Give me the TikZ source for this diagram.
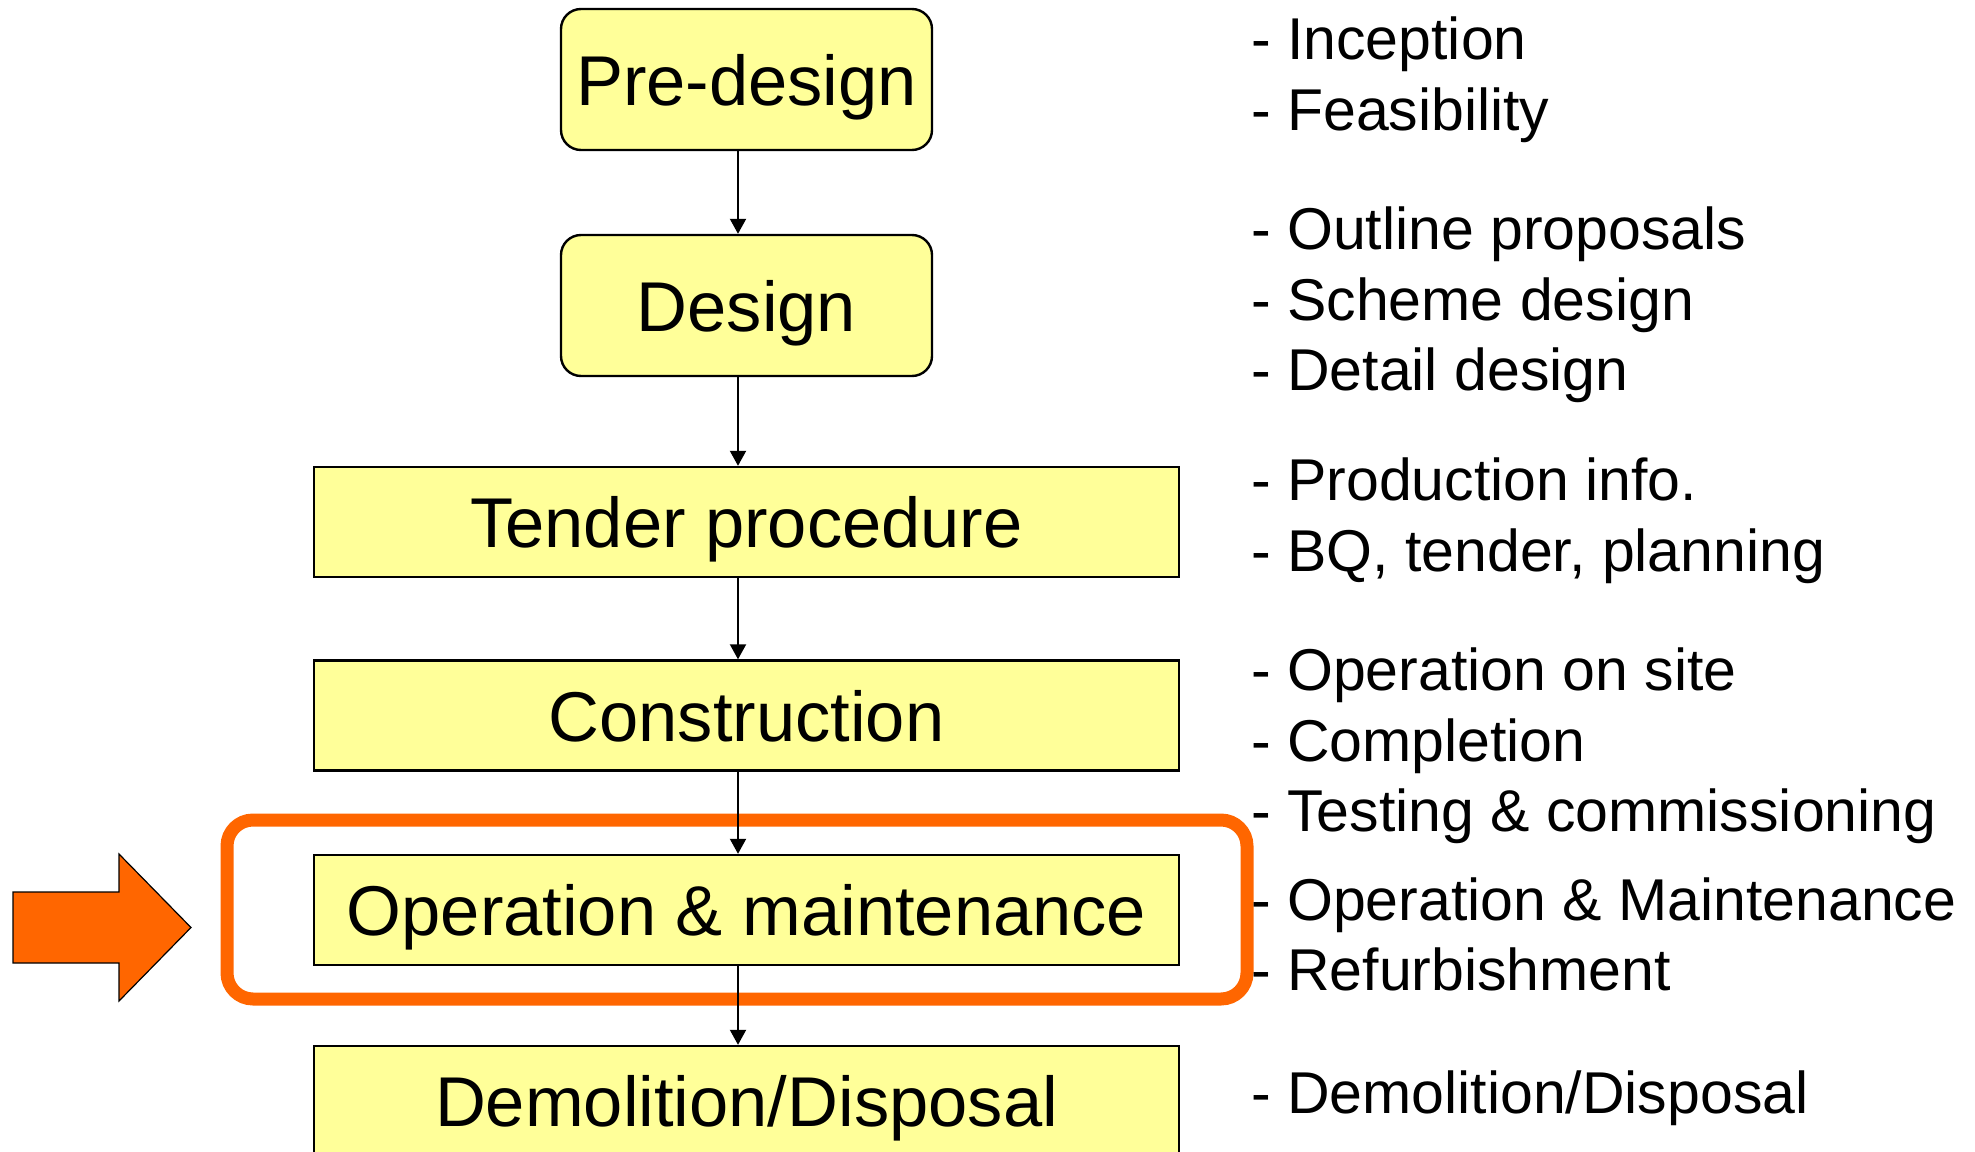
\documentclass[tikz,border=0pt]{standalone}
\usepackage{fontspec}
\setmainfont{Liberation Sans}
\usetikzlibrary{arrows.meta}
\definecolor{boxyellow}{HTML}{FFFF99}
\definecolor{hlorange}{HTML}{FF6600}
\begin{document}
\begin{tikzpicture}[x=1pt,y=-1pt,
 stagebox/.style={draw=black, fill=boxyellow, line width=2.4pt, inner sep=0pt, text height=51pt, text depth=0pt, font=\fontsize{70.5}{80}\selectfont},
 roundbox/.style={stagebox, rounded corners=20pt, minimum width=371pt, minimum height=141pt},
 widebox/.style={stagebox, minimum width=865pt, minimum height=110pt},
 flow/.style={line width=2pt, -{Triangle[width=16pt,length=15pt]}},
 note/.style={anchor=base west, inner sep=0pt, font=\fontsize{59}{70}\selectfont},
 highlight/.style={draw=hlorange, line width=13pt, rounded corners=26pt, inner sep=0pt},
 bigarrow/.style={fill=hlorange, draw=black, line width=1.2pt, line join=miter}
]
\clip (0,0) rectangle (1975,1151);
\useasboundingbox (0,0) rectangle (1975,1151);

% highlight frame
\node[highlight, minimum width=1020pt, minimum height=179pt] (hl) at (737,909.5) {};

% big pointing arrow
\draw[bigarrow] (13,892) -- (119,892) -- (119,854) -- (191,927.5) -- (119,1001) -- (119,963) -- (13,963) -- cycle;

% stages
\node[roundbox] (pre) at (746.5,79.5) {Pre-design};
\node[roundbox] (des) at (746.5,305.5) {Design};
\node[widebox] (ten) at (746.5,522) {Tender procedure};
\node[widebox] (con) at (746.5,715.5) {Construction};
\node[widebox] (ope) at (746.5,910) {Operation \& maintenance};
\node[widebox] (dem) at (746.5,1101) {Demolition/Disposal};

% connectors
\draw[flow] ([xshift=-8.5pt]pre.south) -- ([xshift=-8.5pt]des.north);
\draw[flow] ([xshift=-8.5pt]des.south) -- ([xshift=-8.5pt]ten.north);
\draw[flow] ([xshift=-8.5pt]ten.south) -- ([xshift=-8.5pt]con.north);
\draw[flow] ([xshift=-8.5pt]con.south) -- ([xshift=-8.5pt]ope.north);
\draw[flow] ([xshift=-8.5pt]ope.south) -- ([xshift=-8.5pt]dem.north);

% notes
\node[note] (n1) at (1251,59) {- Inception};
\node[note] (n2) at (1251,130) {- Feasibility};
\node[note] (n3) at (1251,249) {- Outline proposals};
\node[note] (n4) at (1251,320) {- Scheme design};
\node[note] (n5) at (1251,390) {- Detail design};
\node[note] (n6) at (1251,500) {- Production info.};
\node[note] (n7) at (1251,571) {- BQ, tender, planning};
\node[note] (n8) at (1251,690) {- Operation on site};
\node[note] (n9) at (1251,761) {- Completion};
\node[note] (n10) at (1251,831) {- Testing \& commissioning};
\node[note] (n11) at (1251,920) {- Operation \& Maintenance};
\node[note] (n12) at (1251,990) {- Refurbishment};
\node[note] (n13) at (1251,1113) {- Demolition/Disposal};
\end{tikzpicture}
\end{document}
